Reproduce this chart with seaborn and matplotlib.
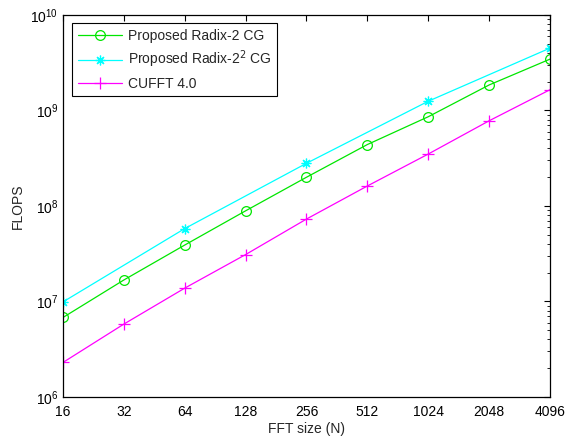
import matplotlib
matplotlib.use("Agg")
import matplotlib.pyplot as plt
import matplotlib.ticker as mticker
import seaborn as sns
import pandas as pd

# FFT sizes and measured FLOPS
fft_sizes = [16, 32, 64, 128, 256, 512, 1024, 2048, 4096]
radix2_flops = [6.8e6, 1.68e7, 3.9e7, 8.9e7, 2.0e8, 4.4e8, 8.6e8, 1.85e9, 3.45e9]
radix22_sizes = [16, 64, 256, 1024, 4096]
radix22_flops = [9.9e6, 5.8e7, 2.8e8, 1.25e9, 4.5e9]
cufft_flops = [2.3e6, 5.8e6, 1.38e7, 3.1e7, 7.3e7, 1.62e8, 3.5e8, 7.8e8, 1.65e9]
tick_labels = ["16", "32", "64", "128", "256", "512", "1024", "2048", "4096"]

sns.set_style("white")
plt.rcParams["font.family"] = ["Liberation Sans", "DejaVu Sans"]
plt.rcParams["font.size"] = 10

df_r2 = pd.DataFrame({"N": fft_sizes, "flops": radix2_flops})
df_r22 = pd.DataFrame({"N": radix22_sizes, "flops": radix22_flops})
df_cu = pd.DataFrame({"N": fft_sizes, "flops": cufft_flops})

fig = plt.figure(figsize=(5.66, 4.41), dpi=100)
ax = fig.add_axes([0.1113, 0.0998, 0.8604, 0.8662])

sns.lineplot(data=df_r2, x="N", y="flops", ax=ax, color="#00e600", lw=0.9,
             marker="o", markersize=7, markerfacecolor="none",
             markeredgecolor="#00e600", markeredgewidth=0.9,
             label="Proposed Radix-2 CG")
sns.lineplot(data=df_r22, x="N", y="flops", ax=ax, color="#00ffff", lw=0.9,
             marker=(8, 2, 0), markersize=7, markeredgecolor="#00ffff",
             markeredgewidth=0.9, label="Proposed Radix-2$^2$ CG")
sns.lineplot(data=df_cu, x="N", y="flops", ax=ax, color="#ff00ff", lw=0.9,
             marker="+", markersize=8, markeredgecolor="#ff00ff",
             markeredgewidth=0.9, label="CUFFT 4.0")

ax.set_xscale("log", base=2)
ax.set_yscale("log")
ax.set_xlim(16, 4096)
ax.set_ylim(1e6, 1e10)
ax.set_xticks(fft_sizes)
ax.set_xticklabels(tick_labels)
ax.xaxis.set_minor_locator(mticker.NullLocator())
ax.yaxis.set_major_locator(mticker.LogLocator(base=10, numticks=10))
ax.yaxis.set_minor_locator(mticker.LogLocator(base=10, subs=range(2, 10), numticks=20))
ax.tick_params(which="both", direction="in", top=True, right=True, colors="black")
ax.tick_params(which="major", length=4, width=0.8, labelsize=10)
ax.tick_params(which="minor", length=2, width=0.6)
ax.tick_params(axis="x", pad=6)

for sp in ax.spines.values():
    sp.set_color("black")
    sp.set_linewidth(0.9)

ax.set_xlabel("FFT size (N)", fontsize=10, labelpad=2)
ax.set_ylabel("FLOPS", fontsize=10)

leg = ax.legend(loc="upper left", bbox_to_anchor=(0.01, 0.99), fancybox=False,
                framealpha=1, edgecolor="black", fontsize=10, handlelength=3.2,
                borderaxespad=0.3, labelspacing=0.45, handletextpad=0.4)
leg.get_frame().set_linewidth(0.8)

fig.savefig("out.png", dpi=100)
